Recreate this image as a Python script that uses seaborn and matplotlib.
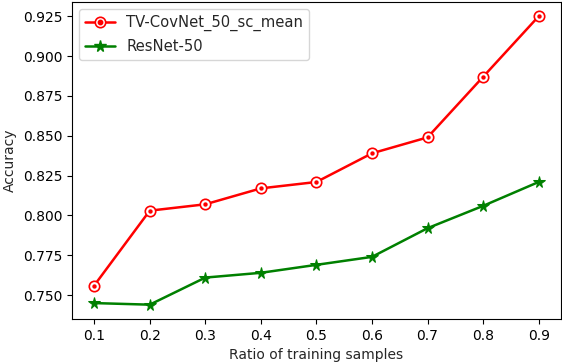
import matplotlib
matplotlib.use("Agg")
import matplotlib.pyplot as plt
from matplotlib.legend_handler import HandlerTuple
from matplotlib.lines import Line2D
import seaborn as sns
import pandas as pd

ratios = [0.1, 0.2, 0.3, 0.4, 0.5, 0.6, 0.7, 0.8, 0.9]
tv_covnet = [0.756, 0.803, 0.807, 0.817, 0.821, 0.839, 0.849, 0.887, 0.925]
resnet50 = [0.745, 0.744, 0.761, 0.764, 0.769, 0.774, 0.792, 0.806, 0.821]
series_names = ["TV-CovNet_50_sc_mean", "ResNet-50"]

sns.set_style("ticks")
plt.rcParams['font.family'] = ['DejaVu Sans']

fig = plt.figure(figsize=(5.62, 3.64), dpi=100)
ax = fig.add_axes([0.128, 0.1236, 0.870, 0.871])

df_a = pd.DataFrame({"ratio": ratios, "acc": tv_covnet})
df_b = pd.DataFrame({"ratio": ratios, "acc": resnet50})

sns.lineplot(data=df_a, x="ratio", y="acc", ax=ax, color="red", marker="o",
             markersize=7.5, markerfacecolor="white", markeredgecolor="red",
             markeredgewidth=1.2, linewidth=1.8, legend=False)
sns.scatterplot(data=df_a, x="ratio", y="acc", ax=ax, color="red", s=10,
                edgecolor="red", linewidth=0, zorder=5, legend=False)
sns.lineplot(data=df_b, x="ratio", y="acc", ax=ax, color="green", marker="*",
             markersize=8.5, markeredgecolor="green", linewidth=1.8, legend=False)

h1 = Line2D([], [], color="red", marker="o", markersize=7.5, markerfacecolor="white",
            markeredgecolor="red", markeredgewidth=1.2, linewidth=1.8)
h1b = Line2D([], [], color="red", marker="o", markersize=3.2, linestyle="none")
h2 = Line2D([], [], color="green", marker="*", markersize=8.5, markeredgecolor="green",
            linewidth=1.8)
ax.legend([(h1, h1b), h2], series_names, loc="upper left", fontsize=10.6,
          frameon=True, handler_map={tuple: HandlerTuple(ndivide=1)})

yt = [0.750, 0.775, 0.800, 0.825, 0.850, 0.875, 0.900, 0.925]
ax.set_xticks(ratios)
ax.set_xticklabels([f"{r:.1f}" for r in ratios])
ax.set_yticks(yt)
ax.set_yticklabels([f"{v:.3f}" for v in yt])
ax.set_xlim(0.06, 0.94)
ax.set_ylim(0.735, 0.934)
ax.set_xlabel("Ratio of training samples", fontsize=10)
ax.set_ylabel("Accuracy", fontsize=10)
ax.tick_params(labelsize=10, length=3.5, width=0.8, colors="black")
for s in ax.spines.values():
    s.set_visible(True)
    s.set_color("black")
    s.set_linewidth(0.8)
ax.grid(False)

fig.savefig("out.png", dpi=100)
